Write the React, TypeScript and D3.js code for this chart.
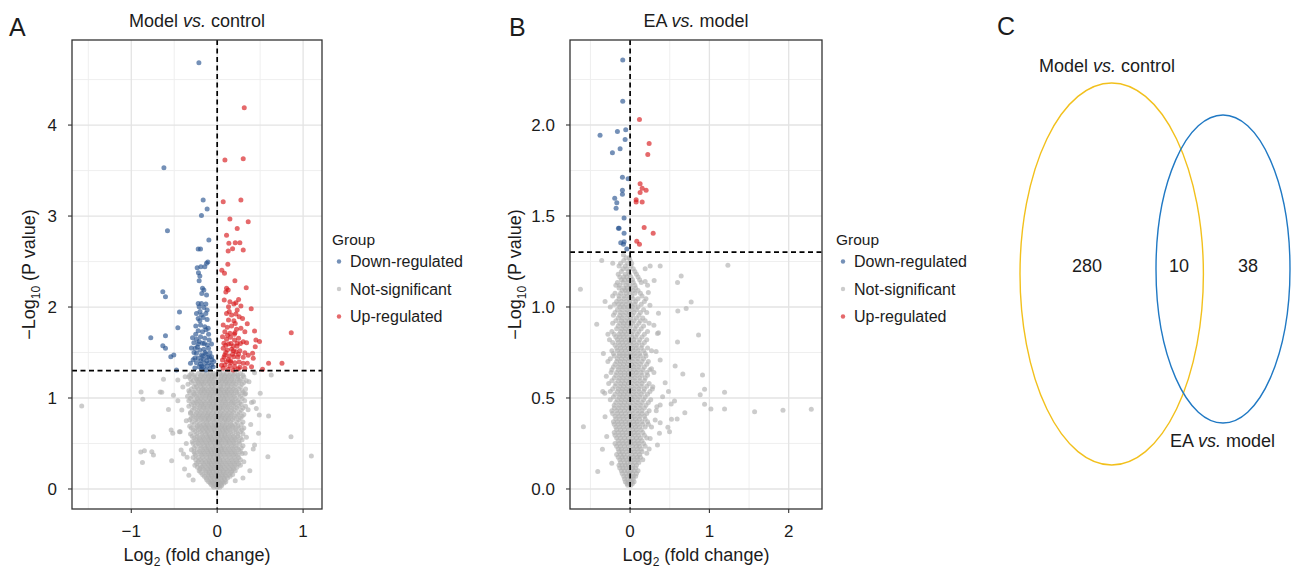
import React from 'react';
import * as d3 from 'd3';

type Pt = [number, number];
type Row = [number, number[]];

// ---------------- Panel A: Model vs. control ----------------
const modelDown: Pt[] = [
  [-0.213, 4.685], [-0.62, 3.53], [-0.163, 3.176], [-0.117, 3.077], [-0.183, 3.007], [-0.579, 2.839], [-0.097, 2.736],
  [-0.221, 2.637], [-0.194, 2.637], [-0.109, 2.495], [-0.124, 2.48], [-0.233, 2.432], [-0.19, 2.443], [-0.144, 2.443],
  [-0.218, 2.377], [-0.202, 2.341], [-0.21, 2.289], [-0.633, 2.168], [-0.602, 2.114], [-0.171, 2.205], [-0.155, 2.187],
  [-0.179, 2.15], [-0.124, 2.132], [-0.221, 2.04], [-0.183, 2.04], [-0.132, 2.033], [-0.21, 2.004], [-0.155, 1.996],
  [-0.117, 1.967], [-0.439, 1.945], [-0.241, 1.93], [-0.183, 1.912], [-0.132, 1.93], [-0.221, 1.875], [-0.163, 1.886],
  [-0.202, 1.85], [-0.117, 1.864], [-0.458, 1.773], [-0.249, 1.791], [-0.194, 1.802], [-0.144, 1.784], [-0.105, 1.766],
  [-0.221, 1.74], [-0.171, 1.729], [-0.773, 1.663], [-0.602, 1.685], [-0.287, 1.663], [-0.241, 1.645], [-0.194, 1.674],
  [-0.144, 1.656], [-0.093, 1.637], [-0.272, 1.608], [-0.221, 1.593], [-0.171, 1.601], [-0.117, 1.582], [-0.066, 1.593],
  [-0.633, 1.575], [-0.602, 1.546], [-0.54, 1.454], [-0.505, 1.473], [-0.256, 1.546], [-0.202, 1.527], [-0.155, 1.535],
  [-0.101, 1.546], [-0.241, 1.491], [-0.183, 1.473], [-0.132, 1.484], [-0.085, 1.498], [-0.221, 1.436], [-0.163, 1.425],
  [-0.113, 1.447], [-0.066, 1.454], [-0.311, 1.381], [-0.474, 1.308], [-0.241, 1.388], [-0.194, 1.374], [-0.144, 1.381],
  [-0.093, 1.388], [-0.21, 1.344], [-0.163, 1.337], [-0.117, 1.352], [-0.066, 1.363], [-0.183, 1.315], [-0.132, 1.308],
  [-0.085, 1.322], [-0.047, 1.344], [-0.25, 1.7], [-0.2, 1.95], [-0.13, 1.75], [-0.27, 1.5], [-0.28, 1.42], [-0.15, 1.6],
  [-0.1, 1.7], [-0.06, 1.42], [-0.23, 1.56], [-0.19, 1.41], [-0.12, 1.41], [-0.3, 1.55], [-0.26, 1.33], [-0.04, 1.4],
  [-0.17, 1.46], [-0.21, 1.62], [-0.14, 1.5], [-0.09, 1.45], [-0.26, 1.44], [-0.18, 1.35],
];

const modelUp: Pt[] = [
  [0.315, 4.19], [0.09, 3.615], [0.303, 3.63], [0.07, 3.158], [0.276, 3.176], [0.148, 2.967], [0.361, 2.938],
  [0.233, 2.864], [0.109, 2.788], [0.136, 2.7], [0.21, 2.707], [0.264, 2.707], [0.128, 2.615], [0.179, 2.641],
  [0.303, 2.626], [0.124, 2.469], [0.054, 2.403], [0.085, 2.37], [0.206, 2.289], [0.109, 2.205], [0.128, 2.187],
  [0.101, 2.165], [0.338, 2.212], [0.249, 2.084], [0.218, 2.048], [0.276, 2.011], [0.082, 2.077], [0.148, 2.059],
  [0.194, 2.033], [0.132, 2.004], [0.233, 1.967], [0.396, 1.982], [0.109, 1.93], [0.167, 1.912], [0.218, 1.923],
  [0.256, 1.894], [0.132, 1.857], [0.194, 1.85], [0.295, 1.875], [0.35, 1.817], [0.07, 1.802], [0.117, 1.777],
  [0.167, 1.791], [0.225, 1.755], [0.276, 1.766], [0.089, 1.729], [0.148, 1.711], [0.206, 1.718], [0.322, 1.729],
  [0.435, 1.736], [0.862, 1.718], [0.062, 1.674], [0.109, 1.645], [0.155, 1.667], [0.202, 1.637], [0.249, 1.656],
  [0.303, 1.619], [0.078, 1.601], [0.132, 1.593], [0.186, 1.571], [0.233, 1.601], [0.342, 1.608], [0.451, 1.637],
  [0.443, 1.564], [0.493, 1.62], [0.07, 1.546], [0.117, 1.527], [0.167, 1.535], [0.218, 1.509], [0.264, 1.52],
  [0.322, 1.498], [0.089, 1.473], [0.14, 1.462], [0.194, 1.454], [0.249, 1.48], [0.303, 1.447], [0.361, 1.469],
  [0.412, 1.491], [0.42, 1.436], [0.062, 1.418], [0.109, 1.399], [0.155, 1.41], [0.206, 1.388], [0.256, 1.396],
  [0.303, 1.381], [0.089, 1.363], [0.148, 1.352], [0.202, 1.344], [0.264, 1.337], [0.35, 1.381], [0.598, 1.381],
  [0.754, 1.381], [0.528, 1.315], [0.07, 1.326], [0.128, 1.315], [0.186, 1.308], [0.245, 1.322], [0.322, 1.326],
  [0.4, 1.344], [0.1, 1.5], [0.16, 1.6], [0.2, 1.7], [0.13, 1.42], [0.24, 1.45], [0.05, 1.36], [0.18, 1.48],
  [0.23, 1.57], [0.12, 1.69], [0.27, 1.6], [0.16, 1.39], [0.21, 1.82], [0.14, 1.95], [0.19, 1.52], [0.08, 1.45],
  [0.1, 1.58],
];

const modelNsScatter: Pt[] = [
  [-1.577, 0.912], [-0.886, 1.066], [-0.866, 0.985], [-0.664, 1.066], [-0.645, 1.062], [-0.625, 1.205],
  [-0.458, 1.198], [-0.509, 1.029], [-0.567, 0.875], [-0.412, 0.868], [-0.458, 0.971], [-0.373, 1.234],
  [-0.742, 0.575], [-0.89, 0.407], [-0.847, 0.421], [-0.761, 0.41], [-0.742, 0.374], [-0.87, 0.29],
  [-0.536, 0.648], [-0.517, 0.612], [-0.53, 0.31], [-0.42, 0.429], [-0.392, 0.385], [-0.431, 0.63],
  [0.435, 1.278], [0.629, 1.253], [0.501, 1.051], [0.598, 0.802], [0.423, 0.96], [0.455, 0.886], [0.49, 0.813],
  [0.859, 0.575], [1.096, 0.363], [0.59, 0.355], [0.482, 0.612], [0.435, 0.484], [0.326, 0.392], [0.21, 0.09],
  [-0.345, 1.02], [-0.31, 0.83], [-0.44, 0.63], [-0.36, 0.5], [-0.38, 0.22], [-0.33, 0.15], [0.33, 1.05],
  [0.36, 0.87], [0.39, 0.71], [0.34, 0.57], [0.42, 0.44], [0.38, 0.2], [0.3, 0.12], [-0.28, 0.1], [0.37, 1.18],
  [-0.4, 1.12], [0.4, 0.95], [-0.36, 0.75], [0.31, 0.3], [-0.35, 0.35],
];

const modelNsCore: Row[] = [
  [1.27, [-0.3, -0.22, -0.17, -0.12, -0.08, -0.04, 0.03, 0.07, 0.11, 0.16, 0.21, 0.27]],
  [1.23, [-0.33, -0.26, -0.2, -0.15, -0.1, -0.06, -0.02, 0.04, 0.09, 0.13, 0.18, 0.24, 0.31]],
  [1.19, [-0.28, -0.23, -0.18, -0.13, -0.09, -0.05, 0.02, 0.06, 0.1, 0.15, 0.2, 0.26, 0.34]],
  [1.15, [-0.34, -0.25, -0.2, -0.16, -0.11, -0.07, -0.03, 0.03, 0.08, 0.12, 0.17, 0.22, 0.29]],
  [1.1, [-0.3, -0.22, -0.17, -0.13, -0.08, -0.04, 0.02, 0.05, 0.1, 0.14, 0.19, 0.25, 0.33]],
  [1.06, [-0.32, -0.27, -0.2, -0.15, -0.1, -0.06, -0.02, 0.04, 0.08, 0.12, 0.17, 0.23, 0.3]],
  [1.02, [-0.29, -0.24, -0.18, -0.13, -0.09, -0.05, 0.02, 0.06, 0.1, 0.15, 0.2, 0.27]],
  [0.97, [-0.33, -0.26, -0.21, -0.16, -0.11, -0.07, -0.03, 0.03, 0.08, 0.13, 0.18, 0.24, 0.32]],
  [0.93, [-0.3, -0.23, -0.18, -0.14, -0.09, -0.05, -0.01, 0.05, 0.1, 0.15, 0.21, 0.28]],
  [0.89, [-0.27, -0.21, -0.16, -0.12, -0.07, -0.03, 0.03, 0.07, 0.12, 0.17, 0.23, 0.3]],
  [0.84, [-0.31, -0.24, -0.19, -0.14, -0.1, -0.05, -0.01, 0.04, 0.09, 0.14, 0.19, 0.26]],
  [0.8, [-0.28, -0.22, -0.17, -0.12, -0.08, -0.03, 0.02, 0.06, 0.11, 0.16, 0.22, 0.29]],
  [0.76, [-0.32, -0.25, -0.19, -0.14, -0.1, -0.05, -0.01, 0.04, 0.09, 0.13, 0.18, 0.25]],
  [0.71, [-0.27, -0.21, -0.16, -0.12, -0.07, -0.03, 0.02, 0.06, 0.11, 0.16, 0.21, 0.28]],
  [0.67, [-0.3, -0.24, -0.18, -0.13, -0.09, -0.04, 0.0, 0.04, 0.09, 0.13, 0.19, 0.25, 0.31]],
  [0.63, [-0.26, -0.2, -0.15, -0.11, -0.06, -0.02, 0.03, 0.07, 0.11, 0.16, 0.22, 0.27]],
  [0.58, [-0.29, -0.23, -0.17, -0.12, -0.08, -0.04, 0.01, 0.05, 0.09, 0.14, 0.19, 0.24]],
  [0.54, [-0.25, -0.2, -0.15, -0.1, -0.06, -0.02, 0.03, 0.07, 0.12, 0.17, 0.22, 0.29]],
  [0.5, [-0.28, -0.22, -0.17, -0.12, -0.08, -0.03, 0.01, 0.05, 0.1, 0.15, 0.2, 0.26]],
  [0.45, [-0.27, -0.19, -0.14, -0.1, -0.05, -0.01, 0.04, 0.08, 0.13, 0.18, 0.23, 0.28]],
  [0.41, [-0.27, -0.21, -0.16, -0.11, -0.07, -0.03, 0.02, 0.06, 0.11, 0.16, 0.21, 0.27]],
  [0.37, [-0.25, -0.18, -0.13, -0.08, -0.04, 0.0, 0.04, 0.09, 0.14, 0.19, 0.24]],
  [0.32, [-0.25, -0.2, -0.15, -0.1, -0.06, -0.02, 0.03, 0.07, 0.12, 0.17, 0.22, 0.27]],
  [0.28, [-0.24, -0.16, -0.11, -0.07, -0.03, 0.01, 0.05, 0.1, 0.15, 0.2, 0.25]],
  [0.24, [-0.23, -0.18, -0.13, -0.08, -0.04, 0.0, 0.04, 0.08, 0.13, 0.18, 0.23]],
  [0.2, [-0.21, -0.14, -0.09, -0.05, -0.01, 0.03, 0.07, 0.12, 0.17, 0.21]],
  [0.16, [-0.17, -0.11, -0.07, -0.03, 0.01, 0.05, 0.09, 0.14, 0.18]],
  [0.12, [-0.13, -0.08, -0.04, 0.0, 0.04, 0.08, 0.12]],
  [0.08, [-0.1, -0.06, -0.02, 0.02, 0.06, 0.1]],
  [0.05, [-0.07, -0.03, 0.01, 0.05]],
  [0.02, [-0.04, 0.0, 0.03]],
];

const modelNsCoreFill: Row[] = [
  [1.25, [-0.32, -0.27, -0.19, -0.14, -0.1, -0.06, -0.02, 0.05, 0.09, 0.14, 0.19, 0.24, 0.3]],
  [1.21, [-0.31, -0.24, -0.21, -0.16, -0.11, -0.07, -0.03, 0.04, 0.08, 0.12, 0.17, 0.23, 0.28]],
  [1.17, [-0.3, -0.22, -0.18, -0.14, -0.09, -0.05, -0.01, 0.05, 0.1, 0.14, 0.19, 0.25, 0.31]],
  [1.125, [-0.27, -0.24, -0.19, -0.15, -0.1, -0.06, -0.02, 0.04, 0.07, 0.12, 0.16, 0.21, 0.27]],
  [1.08, [-0.33, -0.25, -0.19, -0.15, -0.11, -0.06, -0.02, 0.03, 0.08, 0.12, 0.17, 0.22, 0.29]],
  [1.04, [-0.27, -0.22, -0.17, -0.12, -0.08, -0.04, 0.0, 0.05, 0.1, 0.14, 0.19, 0.25, 0.32]],
  [0.995, [-0.31, -0.23, -0.19, -0.14, -0.09, -0.05, -0.01, 0.04, 0.08, 0.12, 0.17, 0.22, 0.29]],
  [0.95, [-0.28, -0.24, -0.19, -0.14, -0.09, -0.05, -0.01, 0.05, 0.1, 0.16, 0.2, 0.26]],
  [0.91, [-0.33, -0.26, -0.2, -0.16, -0.11, -0.07, -0.03, 0.03, 0.08, 0.13, 0.19, 0.25, 0.33]],
  [0.865, [-0.29, -0.23, -0.18, -0.13, -0.08, -0.04, 0.01, 0.06, 0.11, 0.16, 0.21, 0.28]],
  [0.82, [-0.26, -0.21, -0.16, -0.11, -0.07, -0.02, 0.03, 0.07, 0.12, 0.17, 0.24, 0.31]],
  [0.78, [-0.3, -0.24, -0.19, -0.14, -0.1, -0.05, 0.0, 0.05, 0.09, 0.14, 0.2, 0.27]],
  [0.735, [-0.29, -0.23, -0.17, -0.12, -0.08, -0.03, 0.02, 0.07, 0.11, 0.16, 0.23, 0.3]],
  [0.69, [-0.32, -0.23, -0.19, -0.14, -0.1, -0.05, -0.01, 0.05, 0.09, 0.14, 0.18, 0.24]],
  [0.65, [-0.28, -0.22, -0.17, -0.12, -0.07, -0.03, 0.02, 0.06, 0.1, 0.15, 0.21, 0.29]],
  [0.605, [-0.31, -0.24, -0.18, -0.13, -0.09, -0.04, 0.01, 0.05, 0.09, 0.13, 0.18, 0.24, 0.3]],
  [0.56, [-0.27, -0.21, -0.16, -0.11, -0.07, -0.02, 0.02, 0.07, 0.11, 0.16, 0.21, 0.27]],
  [0.52, [-0.29, -0.23, -0.18, -0.13, -0.08, -0.04, 0.01, 0.05, 0.1, 0.14, 0.19, 0.25]],
  [0.475, [-0.25, -0.2, -0.15, -0.11, -0.06, -0.02, 0.03, 0.07, 0.12, 0.17, 0.22, 0.3]],
  [0.43, [-0.3, -0.23, -0.17, -0.12, -0.08, -0.04, 0.01, 0.05, 0.09, 0.14, 0.19, 0.25]],
  [0.39, [-0.26, -0.2, -0.15, -0.1, -0.06, -0.02, 0.02, 0.07, 0.12, 0.17, 0.22, 0.29]],
  [0.345, [-0.28, -0.22, -0.17, -0.12, -0.08, -0.04, 0.01, 0.05, 0.1, 0.15, 0.2, 0.25]],
  [0.3, [-0.22, -0.18, -0.13, -0.09, -0.05, -0.01, 0.03, 0.08, 0.13, 0.18, 0.23]],
  [0.26, [-0.26, -0.2, -0.15, -0.1, -0.06, -0.02, 0.02, 0.06, 0.11, 0.16, 0.21, 0.27]],
  [0.22, [-0.2, -0.16, -0.11, -0.07, -0.03, 0.01, 0.05, 0.1, 0.15, 0.19]],
  [0.18, [-0.19, -0.13, -0.09, -0.05, -0.01, 0.03, 0.07, 0.11, 0.16]],
  [0.14, [-0.15, -0.1, -0.06, -0.02, 0.02, 0.06, 0.1, 0.15]],
  [0.1, [-0.12, -0.07, -0.03, 0.01, 0.05, 0.09]],
  [0.065, [-0.08, -0.04, 0.0, 0.04, 0.08]],
  [0.035, [-0.05, -0.01, 0.02, 0.05]],
];

// ---------------- Panel B: EA vs. model ----------------
const eaDown: Pt[] = [
  [-0.093, 2.357], [-0.093, 2.13], [-0.379, 1.944], [-0.16, 1.964], [-0.055, 1.974], [-0.063, 1.92], [-0.126, 1.87],
  [-0.223, 1.848], [-0.097, 1.713], [-0.025, 1.705], [-0.097, 1.641], [-0.097, 1.619], [-0.194, 1.597], [-0.168, 1.573],
  [-0.177, 1.543], [-0.076, 1.489], [-0.147, 1.433], [-0.139, 1.433], [-0.076, 1.405], [-0.118, 1.353], [-0.076, 1.359],
  [-0.084, 1.345], [-0.042, 1.319],
];

const eaUp: Pt[] = [
  [0.118, 2.03], [0.24, 1.898], [0.223, 1.838], [0.126, 1.677], [0.152, 1.653], [0.202, 1.641], [0.126, 1.629],
  [0.076, 1.589], [0.076, 1.577], [0.152, 1.577], [0.177, 1.437], [0.291, 1.405], [0.084, 1.361], [0.118, 1.345],
];

const eaNsScatter: Pt[] = [
  [1.233, 1.229], [-0.358, 1.255], [-0.627, 1.097], [0.379, 1.225], [0.253, 1.225], [0.644, 1.17], [0.598, 1.134],
  [0.303, 1.145], [0.77, 1.027], [0.707, 0.991], [0.602, 0.978], [-0.421, 0.905], [0.863, 0.846], [0.598, 0.808],
  [0.358, 0.859], [0.568, 0.676], [0.665, 0.632], [0.913, 0.626], [0.939, 0.548], [0.884, 0.518], [1.191, 0.531],
  [0.442, 0.584], [0.484, 0.535], [0.56, 0.484], [0.518, 0.467], [0.939, 0.465], [1.019, 0.44], [1.191, 0.44],
  [1.57, 0.425], [1.928, 0.432], [2.285, 0.438], [0.69, 0.419], [0.593, 0.385], [0.522, 0.383], [0.379, 0.364],
  [0.476, 0.339], [0.497, 0.315], [0.379, 0.462], [-0.589, 0.342], [-0.349, 0.218], [0.37, 0.306], [0.345, 0.242],
  [-0.32, 0.526], [-0.345, 0.535], [-0.408, 0.096], [-0.337, 0.745], [-0.316, 1.03], [-0.219, 1.24], [-0.084, 1.286],
  [0.19, 1.14], [0.23, 1.08], [0.25, 1.01], [0.358, 0.965], [0.345, 0.855], [0.328, 0.755], [0.379, 0.709],
  [0.286, 0.562], [0.41, 0.507], [0.337, 0.452], [0.316, 0.379], [0.253, 0.278], [0.21, 0.196], [-0.316, 0.397],
  [-0.295, 0.288], [-0.231, 0.141], [-0.3, 0.62], [-0.28, 0.85], [0.3, 0.9], [0.27, 0.66],
];

const eaNsCore: Row[] = [
  [1.27, [-0.05, -0.01]],
  [1.24, [-0.12, -0.03, 0.02]],
  [1.21, [-0.09, -0.04, 0.04, 0.19]],
  [1.18, [-0.15, -0.06, -0.01, 0.08]],
  [1.15, [-0.11, -0.07, -0.02, 0.03, 0.12]],
  [1.12, [-0.18, -0.13, -0.05, 0.0, 0.06, 0.22]],
  [1.09, [-0.1, -0.06, -0.02, 0.04, 0.1]],
  [1.06, [-0.22, -0.14, -0.08, -0.03, 0.02, 0.15]],
  [1.03, [-0.17, -0.11, -0.05, 0.0, 0.07, 0.18]],
  [1.0, [-0.25, -0.13, -0.08, -0.03, 0.03, 0.1]],
  [0.97, [-0.19, -0.12, -0.06, -0.01, 0.05, 0.13, 0.21]],
  [0.94, [-0.15, -0.1, -0.04, 0.01, 0.08, 0.16]],
  [0.91, [-0.22, -0.13, -0.08, -0.03, 0.03, 0.11, 0.24]],
  [0.88, [-0.17, -0.11, -0.06, -0.01, 0.06, 0.14]],
  [0.85, [-0.2, -0.14, -0.09, -0.04, 0.02, 0.09, 0.18]],
  [0.82, [-0.26, -0.16, -0.11, -0.06, -0.01, 0.05, 0.12, 0.21]],
  [0.79, [-0.19, -0.13, -0.08, -0.03, 0.02, 0.08, 0.15]],
  [0.76, [-0.23, -0.16, -0.11, -0.06, -0.01, 0.04, 0.1, 0.17, 0.27]],
  [0.73, [-0.2, -0.14, -0.09, -0.04, 0.01, 0.07, 0.13, 0.2]],
  [0.7, [-0.28, -0.17, -0.12, -0.07, -0.02, 0.03, 0.09, 0.15, 0.23]],
  [0.67, [-0.21, -0.15, -0.1, -0.05, 0.0, 0.05, 0.11, 0.18]],
  [0.64, [-0.24, -0.17, -0.12, -0.07, -0.02, 0.03, 0.08, 0.14, 0.21, 0.3]],
  [0.61, [-0.2, -0.14, -0.09, -0.04, 0.01, 0.06, 0.12, 0.19]],
  [0.58, [-0.27, -0.18, -0.12, -0.07, -0.02, 0.03, 0.09, 0.15, 0.24]],
  [0.55, [-0.22, -0.15, -0.1, -0.05, 0.0, 0.05, 0.11, 0.18, 0.28]],
  [0.52, [-0.19, -0.13, -0.08, -0.03, 0.02, 0.08, 0.14, 0.22]],
  [0.49, [-0.25, -0.16, -0.11, -0.06, -0.01, 0.04, 0.1, 0.17, 0.26]],
  [0.46, [-0.2, -0.14, -0.09, -0.04, 0.01, 0.07, 0.13, 0.2]],
  [0.43, [-0.23, -0.17, -0.12, -0.07, -0.02, 0.03, 0.09, 0.15, 0.24, 0.33]],
  [0.4, [-0.19, -0.14, -0.09, -0.04, 0.01, 0.06, 0.12, 0.18]],
  [0.37, [-0.21, -0.16, -0.11, -0.06, -0.01, 0.04, 0.09, 0.15, 0.22]],
  [0.34, [-0.18, -0.13, -0.08, -0.03, 0.02, 0.07, 0.12, 0.19, 0.27]],
  [0.31, [-0.2, -0.15, -0.1, -0.05, 0.0, 0.05, 0.1, 0.16]],
  [0.28, [-0.17, -0.12, -0.07, -0.02, 0.03, 0.08, 0.13, 0.21]],
  [0.25, [-0.19, -0.14, -0.09, -0.04, 0.01, 0.06, 0.11, 0.17]],
  [0.22, [-0.15, -0.11, -0.06, -0.01, 0.04, 0.09, 0.14, 0.24]],
  [0.19, [-0.17, -0.12, -0.08, -0.03, 0.02, 0.07, 0.12]],
  [0.16, [-0.13, -0.09, -0.04, 0.0, 0.05, 0.1, 0.16]],
  [0.13, [-0.14, -0.1, -0.06, -0.02, 0.03, 0.08]],
  [0.1, [-0.11, -0.07, -0.03, 0.01, 0.05, 0.1]],
  [0.07, [-0.08, -0.04, 0.0, 0.04, 0.07]],
  [0.04, [-0.06, -0.02, 0.02, 0.05]],
  [0.02, [-0.03, 0.01]],
];

const eaNsCoreFill: Row[] = [
  [1.255, [-0.08, 0.0]],
  [1.225, [-0.14, -0.06, 0.01]],
  [1.195, [-0.11, -0.02, 0.06]],
  [1.165, [-0.13, -0.08, -0.04, 0.01, 0.1]],
  [1.135, [-0.16, -0.09, -0.03, 0.04, 0.14]],
  [1.105, [-0.14, -0.08, -0.04, 0.01, 0.07]],
  [1.075, [-0.19, -0.12, -0.05, 0.0, 0.06, 0.13]],
  [1.045, [-0.14, -0.08, -0.02, 0.04, 0.1, 0.2]],
  [1.015, [-0.2, -0.15, -0.1, -0.05, 0.01, 0.06, 0.14]],
  [0.985, [-0.16, -0.1, -0.04, 0.02, 0.08, 0.17]],
  [0.955, [-0.21, -0.13, -0.08, -0.02, 0.03, 0.11]],
  [0.925, [-0.18, -0.11, -0.06, -0.01, 0.05, 0.13, 0.19]],
  [0.895, [-0.15, -0.09, -0.04, 0.01, 0.08, 0.17]],
  [0.865, [-0.23, -0.12, -0.07, -0.02, 0.04, 0.11, 0.22]],
  [0.835, [-0.18, -0.13, -0.08, -0.03, 0.02, 0.07, 0.15]],
  [0.805, [-0.22, -0.15, -0.1, -0.05, 0.0, 0.05, 0.11, 0.18]],
  [0.775, [-0.17, -0.12, -0.07, -0.02, 0.03, 0.08, 0.14, 0.22]],
  [0.745, [-0.21, -0.14, -0.09, -0.04, 0.01, 0.06, 0.12, 0.19]],
  [0.715, [-0.25, -0.16, -0.11, -0.06, -0.01, 0.04, 0.1, 0.17]],
  [0.685, [-0.19, -0.13, -0.08, -0.03, 0.02, 0.07, 0.13, 0.21]],
  [0.655, [-0.23, -0.15, -0.1, -0.05, 0.0, 0.05, 0.1, 0.16, 0.25]],
  [0.625, [-0.18, -0.12, -0.07, -0.02, 0.03, 0.09, 0.15, 0.22]],
  [0.595, [-0.23, -0.15, -0.1, -0.05, 0.0, 0.06, 0.12, 0.18]],
  [0.565, [-0.19, -0.13, -0.08, -0.03, 0.02, 0.08, 0.14, 0.21]],
  [0.535, [-0.25, -0.16, -0.11, -0.06, -0.01, 0.05, 0.11, 0.17, 0.25]],
  [0.505, [-0.21, -0.14, -0.09, -0.04, 0.01, 0.06, 0.12, 0.19]],
  [0.475, [-0.18, -0.12, -0.07, -0.02, 0.03, 0.09, 0.15, 0.23]],
  [0.445, [-0.2, -0.15, -0.1, -0.05, 0.0, 0.06, 0.12, 0.18]],
  [0.415, [-0.22, -0.16, -0.11, -0.06, -0.01, 0.04, 0.1, 0.15, 0.21]],
  [0.385, [-0.18, -0.13, -0.08, -0.03, 0.02, 0.07, 0.12, 0.19]],
  [0.355, [-0.2, -0.15, -0.1, -0.05, 0.0, 0.05, 0.1, 0.16, 0.23]],
  [0.325, [-0.17, -0.12, -0.07, -0.02, 0.03, 0.08, 0.14]],
  [0.295, [-0.19, -0.14, -0.09, -0.04, 0.01, 0.06, 0.11, 0.18]],
  [0.265, [-0.15, -0.1, -0.05, 0.0, 0.05, 0.1, 0.15]],
  [0.235, [-0.17, -0.12, -0.07, -0.02, 0.03, 0.08, 0.12, 0.19]],
  [0.205, [-0.14, -0.1, -0.05, 0.0, 0.05, 0.1, 0.15]],
  [0.175, [-0.15, -0.1, -0.06, -0.01, 0.04, 0.09, 0.13]],
  [0.145, [-0.12, -0.07, -0.03, 0.01, 0.06, 0.11]],
  [0.115, [-0.13, -0.09, -0.05, -0.01, 0.03, 0.07]],
  [0.085, [-0.1, -0.05, -0.01, 0.03, 0.08]],
  [0.055, [-0.07, -0.03, 0.01, 0.04]],
  [0.03, [-0.04, 0.0, 0.03]],
];

// ---------------- Axes / legend / Venn ----------------
const modelXTicks = [-1, 0, 1];
const modelXMinor = [-1.5, -0.5, 0.5];
const modelYTicks = [0, 1, 2, 3, 4];
const modelYMinor = [0.5, 1.5, 2.5, 3.5, 4.5];
const eaXTicks = [0, 1, 2];
const eaXMinor = [-0.5, 0.5, 1.5];
const eaYTicks = [0, 0.5, 1, 1.5, 2];
const eaYMinor = [0.25, 0.75, 1.25, 1.75, 2.25];

const groupLabels = ['Down-regulated', 'Not-significant', 'Up-regulated'];
const vennSetNames = ['Model', 'EA'];
const vennCounts = [280, 10, 38];

const FONT = '"Liberation Sans", Arial, Helvetica, sans-serif';
const INK = '#1c1c1c';
const COLORS = ['#2A5490', '#B0B0B0', '#D7191C'];
const PT_OPACITY = 0.65;
const P_CUT = -Math.log10(0.05);

const rowsToPoints = (rows: Row[]): Pt[] => rows.flatMap(([y, xs]) => xs.map((x) => [x, y] as Pt));

interface VolcanoProps {
  left: number;
  right: number;
  top: number;
  bottom: number;
  xDomain: [number, number];
  yDomain: [number, number];
  xTicks: number[];
  xMinor: number[];
  yTicks: number[];
  yMinor: number[];
  yFmt: (v: number) => string;
  titleA: string;
  titleB: string;
  letter: string;
  letterX: number;
  yTitleX: number;
  legendX: number;
  legendY: number;
  down: Pt[];
  up: Pt[];
  ns: Pt[];
}

function Volcano(p: VolcanoProps) {
  const xs = d3.scaleLinear().domain(p.xDomain).range([p.left, p.right]);
  const ys = d3.scaleLinear().domain(p.yDomain).range([p.bottom, p.top]);
  const cx = (p.left + p.right) / 2;
  const cy = (p.top + p.bottom) / 2;
  const xFmt = d3.format('d');
  const r = 2.5;
  return (
    <g fontFamily={FONT} fill={INK}>
      <text x={p.letterX} y={36} fontSize={25}>{p.letter}</text>
      <text x={cx} y={27} fontSize={18} textAnchor="middle">
        {p.titleA}
        <tspan fontStyle="italic">vs.</tspan>
        {p.titleB}
      </text>
      {/* grid */}
      {p.xMinor.map((v) => (
        <line key={'xm' + v} x1={xs(v)} x2={xs(v)} y1={p.top} y2={p.bottom} stroke="#EDEDED" strokeWidth={0.9} />
      ))}
      {p.yMinor.map((v) => (
        <line key={'ym' + v} x1={p.left} x2={p.right} y1={ys(v)} y2={ys(v)} stroke="#EDEDED" strokeWidth={0.9} />
      ))}
      {p.xTicks.map((v) => (
        <line key={'xg' + v} x1={xs(v)} x2={xs(v)} y1={p.top} y2={p.bottom} stroke="#E3E3E3" strokeWidth={1.3} />
      ))}
      {p.yTicks.map((v) => (
        <line key={'yg' + v} x1={p.left} x2={p.right} y1={ys(v)} y2={ys(v)} stroke="#E3E3E3" strokeWidth={1.3} />
      ))}
      {/* points */}
      <g stroke="none">
        {p.ns.map((d, i) => (
          <circle key={'n' + i} cx={xs(d[0])} cy={ys(d[1])} r={r} fill={COLORS[1]} fillOpacity={PT_OPACITY} />
        ))}
        {p.down.map((d, i) => (
          <circle key={'d' + i} cx={xs(d[0])} cy={ys(d[1])} r={r} fill={COLORS[0]} fillOpacity={PT_OPACITY} />
        ))}
        {p.up.map((d, i) => (
          <circle key={'u' + i} cx={xs(d[0])} cy={ys(d[1])} r={r} fill={COLORS[2]} fillOpacity={PT_OPACITY} />
        ))}
      </g>
      {/* threshold lines */}
      <line x1={p.left} x2={p.right} y1={ys(P_CUT)} y2={ys(P_CUT)} stroke="#000" strokeWidth={1.7} strokeDasharray="5,3.5" />
      <line x1={xs(0)} x2={xs(0)} y1={p.top} y2={p.bottom} stroke="#000" strokeWidth={1.7} strokeDasharray="5,3.5" />
      {/* border */}
      <rect x={p.left} y={p.top} width={p.right - p.left} height={p.bottom - p.top} fill="none" stroke="#333" strokeWidth={1.3} />
      {/* ticks */}
      {p.yTicks.map((v) => (
        <g key={'yt' + v}>
          <line x1={p.left - 4} x2={p.left} y1={ys(v)} y2={ys(v)} stroke="#333" strokeWidth={1.1} />
          <text x={p.left - 15} y={ys(v) + 6} fontSize={17} textAnchor="end">{p.yFmt(v)}</text>
        </g>
      ))}
      {p.xTicks.map((v) => (
        <g key={'xt' + v}>
          <line x1={xs(v)} x2={xs(v)} y1={p.bottom} y2={p.bottom + 4} stroke="#333" strokeWidth={1.1} />
          <text x={xs(v)} y={p.bottom + 28} fontSize={17} textAnchor="middle">{xFmt(v)}</text>
        </g>
      ))}
      {/* axis titles */}
      <text x={cx} y={561} fontSize={18} textAnchor="middle">
        Log<tspan fontSize={12} dy={5}>2</tspan>
        <tspan dy={-5}>{' (fold change)'}</tspan>
      </text>
      <text transform={`translate(${p.yTitleX},${cy}) rotate(-90)`} fontSize={18} textAnchor="middle">
        {'\u2212Log'}<tspan fontSize={12} dy={5}>10</tspan>
        <tspan dy={-5}>{' (P value)'}</tspan>
      </text>
      {/* legend */}
      <text x={p.legendX} y={p.legendY} fontSize={15.5}>Group</text>
      {groupLabels.map((g, i) => {
        const y = p.legendY + 22 + i * 27.5;
        return (
          <g key={g}>
            <circle cx={p.legendX + 7} cy={y - 5.5} r={2.2} fill={COLORS[i]} fillOpacity={PT_OPACITY} />
            <text x={p.legendX + 18} y={y} fontSize={16}>{g}</text>
          </g>
        );
      })}
    </g>
  );
}

function Venn() {
  const sets = [
    { name: vennSetNames[0], cx: 1111.7, cy: 274, rx: 91.7, ry: 191, color: '#F2C01C' },
    { name: vennSetNames[1], cx: 1223, cy: 269, rx: 67, ry: 154, color: '#2079C4' },
  ];
  const labelX = [1087, 1179, 1248];
  return (
    <g fontFamily={FONT} fill={INK}>
      <text x={997} y={35} fontSize={25}>C</text>
      {sets.map((s) => (
        <ellipse key={s.name} cx={s.cx} cy={s.cy} rx={s.rx} ry={s.ry} fill="none" stroke={s.color} strokeWidth={1.4} />
      ))}
      <text x={1039} y={72} fontSize={18}>
        {'Model '}<tspan fontStyle="italic">vs.</tspan>{' control'}
      </text>
      <text x={1170} y={447} fontSize={18}>
        {'EA '}<tspan fontStyle="italic">vs.</tspan>{' model'}
      </text>
      {vennCounts.map((c, i) => (
        <text key={i} x={labelX[i]} y={272} fontSize={18} textAnchor="middle">{c}</text>
      ))}
    </g>
  );
}

export default function App() {
  const modelNs = [...rowsToPoints(modelNsCore), ...rowsToPoints(modelNsCoreFill), ...modelNsScatter];
  const eaNs = [...rowsToPoints(eaNsCore), ...rowsToPoints(eaNsCoreFill), ...eaNsScatter];
  return (
    <svg width={1291} height={571} style={{ position: 'absolute', left: 0, top: 0, background: '#fff' }}>
      <rect x={0} y={0} width={1291} height={571} fill="#fff" />
      <Volcano
        left={72} right={322} top={40} bottom={509}
        xDomain={[-1.69, 1.22]} yDomain={[-0.22, 4.935]}
        xTicks={modelXTicks} xMinor={modelXMinor} yTicks={modelYTicks} yMinor={modelYMinor}
        yFmt={d3.format('d')}
        titleA={'Model '} titleB={' control'} letter="A" letterX={9} yTitleX={35}
        legendX={332} legendY={245}
        down={modelDown} up={modelUp} ns={modelNs}
      />
      <Volcano
        left={570} right={822} top={40} bottom={509}
        xDomain={[-0.758, 2.42]} yDomain={[-0.11, 2.467]}
        xTicks={eaXTicks} xMinor={eaXMinor} yTicks={eaYTicks} yMinor={eaYMinor}
        yFmt={d3.format('.1f')}
        titleA={'EA '} titleB={' model'} letter="B" letterX={509} yTitleX={521}
        legendX={836} legendY={245}
        down={eaDown} up={eaUp} ns={eaNs}
      />
      <Venn />
    </svg>
  );
}
